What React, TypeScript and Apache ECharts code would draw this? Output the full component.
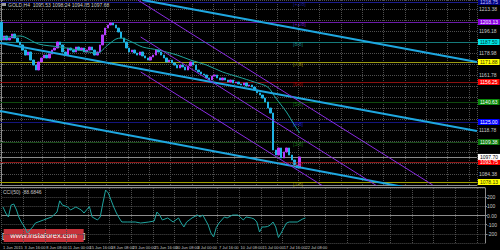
import { useEffect, useRef } from "react";
import * as echarts from "echarts";

const FONT = "'Liberation Sans', Arial, sans-serif";

const chartTitle = "GOLD,H4  1095.53 1098.24 1094.85 1097.68";
const indicatorTitle = "CCI(50) -88.6846";
const logoText = "[   www.instaforex.com   ]";

const slotCount = 179;
const dateLabels: [number, string][] = [
  [0, "1 Jun 2015"], [8, "3 Jun 16:00"], [16, "8 Jun 08:00"], [24, "11 Jun 00:00"],
  [32, "15 Jun 16:00"], [40, "18 Jun 08:00"], [48, "23 Jun 00:00"], [56, "25 Jun 16:00"],
  [64, "30 Jun 08:00"], [72, "3 Jul 00:00"], [80, "7 Jul 16:00"], [88, "10 Jul 08:00"],
  [96, "15 Jul 00:00"], [104, "17 Jul 16:00"], [112, "22 Jul 08:00"],
];

const firstOpen = 1203.1;
const closes = [
  1189.1, 1192.2, 1189.1, 1190.6, 1193.7, 1190.6, 1187.5, 1185.2, 1181.2, 1177.3,
  1179.7, 1173.4, 1169.5, 1165.6, 1171.9, 1175.0, 1177.3, 1175.0, 1178.1, 1181.2,
  1182.8, 1187.5, 1185.2, 1179.7, 1177.3, 1182.8, 1181.2, 1179.7, 1183.6, 1181.2,
  1182.8, 1179.7, 1181.2, 1183.6, 1181.2, 1177.3, 1179.7, 1185.2, 1193.0, 1198.4,
  1200.8, 1202.3, 1200.8, 1198.4, 1195.3, 1190.6, 1187.5, 1182.8, 1179.7, 1181.2,
  1178.9, 1177.3, 1179.7, 1176.6, 1175.0, 1173.4, 1175.8, 1177.3, 1181.2, 1179.7,
  1177.3, 1175.0, 1171.9, 1173.4, 1171.1, 1169.5, 1167.2, 1169.5, 1168.0, 1165.6,
  1168.8, 1171.9, 1169.5, 1165.6, 1164.1, 1162.5, 1161.7, 1159.4, 1157.8, 1160.9,
  1161.7, 1159.4, 1157.8, 1159.4, 1157.8, 1156.2, 1157.8, 1155.5, 1156.2, 1154.7,
  1153.9, 1155.5, 1153.1, 1153.9, 1152.3, 1150.0, 1147.7, 1146.1, 1143.7, 1140.6,
  1135.9, 1132.0, 1103.1, 1099.2, 1104.7, 1096.9, 1101.6, 1104.7, 1099.2, 1095.3,
  1091.4, 1089.1, 1097.7,
];

const maPoints: [number, number][] = [
  [0, 1190.6], [7, 1192.2], [14, 1185.9], [22, 1183.6], [29, 1181.2], [36, 1178.9],
  [40, 1185.2], [43, 1189.8], [45, 1190.6], [49, 1187.5], [53, 1183.6], [59, 1181.2],
  [66, 1177.3], [71, 1173.4], [77, 1169.5], [83, 1164.1], [89, 1160.2], [95, 1156.2],
  [100, 1152.3], [103, 1143.7], [107, 1132.8], [110, 1122.6], [112, 1116.4],
];

const cciPoints: [number, number][] = [
  [0, 93], [1, 27], [2, -16], [3, 114], [4, 125], [5, 60], [6, -27], [7, -82], [8, -125],
  [9, -191], [10, -158], [11, -125], [12, -82], [13, -71], [15, -49], [18, -16], [20, 38],
  [21, 160], [22, 114], [24, 93], [25, 60], [27, 93], [29, 60], [30, 27], [32, 98],
  [33, -16], [35, -49], [36, -16], [37, 136], [38, 278], [39, 245], [40, 169], [41, 93],
  [42, 27], [43, -27], [44, -71], [46, -71], [49, -71], [51, -82], [54, -71], [56, -60],
  [57, 38], [58, 5], [59, -49], [61, -27], [63, -71], [65, -27], [66, -82], [67, -125],
  [68, -71], [70, -27], [72, 5], [73, -16], [74, 5], [76, -104], [77, -191], [78, -234],
  [79, -130], [80, -82], [82, -16], [83, -27], [85, 5], [87, 5], [89, -49], [90, -16],
  [92, -27], [93, -38], [94, -71], [95, -180], [96, -125], [97, -125], [98, -120],
  [99, -104], [100, -71], [101, -125], [102, -240], [103, -191], [104, -136], [105, -82],
  [106, -71], [109, -71], [111, -38], [112, -27],
];

const levelPrices = [1218.75, 1203.125, 1187.5, 1171.875, 1156.25, 1140.625, 1125, 1109.375, 1093.75, 1078.125];
const levelNames = ["[+2/8]", "[+1/8]", "[8/8]", "[7/8]", "[6/8]", "[5/8]", "[4/8]", "[3/8]", "[2/8]", "[1/8]"];
const bidPrice = 1097.7;

const trendLines: [number, number][][] = [
  [[53.0, 1220.31], [178.5, 1171.9]],
  [[-0.5, 1186.7], [178.5, 1117.96]],
  [[-0.5, 1133.6], [178.5, 1063.5]],
];
const channelLines: [number, number][][] = [
  [[51.2, 1220.31], [161.9, 1075.8]],
  [[52.3, 1164.1], [126.1, 1068.0]],
  [[52.3, 1191.4], [143.4, 1071.9]],
];

const priceMin = 1075.78;
const priceMax = 1220.31;
const priceStep = 8.6;

// styles
const levelLineColors = ["#1c1c8c", "#6a1aa8", "#157a7a", "#9a9a10", "#8a1010", "#0f4a0f", "#14147e", "#1a4a1a", "#8a1a1a", "#a0a000"];
const levelBoxColors = ["#000080", "#8a00e0", "#00e5e5", "#ffff00", "#ff0000", "#0a8a0a", "#0000ff", "#0a7a0a", "#ff0000", "#ffff00"];
const levelBoxText = ["#c0c0ff", "#ffffff", "#003030", "#303000", "#ffffff", "#ffffff", "#ffffff", "#ffffff", "#ffffff", "#303000"];
const levelTagColors = ["#2828b0", "#8a2be2", "#20a0a0", "#b0b000", "#c00000", "#1f8a1f", "#2828ff", "#1f8a1f", "#c00000", "#b0b000"];

export default function App() {
  const ref = useRef<HTMLDivElement>(null);
  useEffect(() => {
    document.body.style.margin = "0";
    if (!ref.current) return;
    const chart = echarts.init(ref.current, undefined, { renderer: "svg" });
    const cats = Array.from({ length: slotCount }, (_, i) => String(i));
    const labelMap: Record<number, string> = {};
    dateLabels.forEach(([i, s]) => (labelMap[i] = s));
    const candles = closes.map((c, i) => {
      const o = i === 0 ? firstOpen : closes[i - 1];
      return [o, c, Math.min(o, c), Math.max(o, c)];
    });
    const grayGrid = { color: "#4e4e4e", type: "dotted" as const, width: 1 };
    const axisText = { fontSize: 5, color: "#c8c8c8", fontFamily: FONT };
    const boxPrices = [...levelPrices, bidPrice];
    const nearBox = (v: number) => boxPrices.some((p) => Math.abs(p - v) < 5.2);

    const boxLabel = (text: string, bg: string, fg: string) => ({
      show: true, position: "end", distance: 1, formatter: text,
      fontSize: 5, fontFamily: FONT, color: fg, backgroundColor: bg, padding: [0, 2], lineHeight: 6,
    });
    const levelMarks: any[] = levelPrices.map((p, k) => ({
      yAxis: p,
      lineStyle: { color: levelLineColors[k], width: 1, type: "solid" },
      label: boxLabel(p.toFixed(2), levelBoxColors[k], levelBoxText[k]),
    }));
    levelMarks.push({
      yAxis: bidPrice,
      lineStyle: { color: "#8a8a8a", width: 1, type: "solid" },
      label: boxLabel(bidPrice.toFixed(2), "#ffffff", "#000000"),
    });

    const lineSeries = (pts: [number, number][], color: string, width: number) => ({
      type: "line",
      xAxisIndex: 2,
      yAxisIndex: 0,
      data: pts,
      symbol: "none",
      clip: true,
      silent: true,
      z: 4,
      lineStyle: { color, width },
    });

    chart.setOption({
      animation: false,
      backgroundColor: "#000000",
      textStyle: { fontFamily: FONT },
      grid: [
        { left: 0, top: 0, width: 485, height: 185 },
        { left: 0, top: 188, width: 485, height: 55 },
      ],
      xAxis: [
        {
          type: "category", gridIndex: 0, data: cats, boundaryGap: true,
          axisLine: { show: true, lineStyle: { color: "#8c8c8c" } },
          axisTick: { show: false }, axisLabel: { show: false },
          splitLine: { show: true, interval: 7, lineStyle: grayGrid },
        },
        {
          type: "category", gridIndex: 1, data: cats, boundaryGap: true,
          axisLine: { show: true, lineStyle: { color: "#8c8c8c" } },
          axisTick: { show: false },
          axisLabel: {
            show: true, interval: 7, align: "left", margin: 2, fontSize: 4, color: "#c8c8c8", fontFamily: FONT,
            formatter: (_v: string, i: number) => labelMap[i] ?? "",
          },
          splitLine: { show: true, interval: 7, lineStyle: grayGrid },
        },
        { type: "value", gridIndex: 0, min: -0.5, max: slotCount - 0.5, show: false, position: "top" },
      ],
      yAxis: [
        {
          type: "value", gridIndex: 0, position: "right", min: priceMin, max: priceMax, interval: priceStep,
          axisLine: { show: true, lineStyle: { color: "#8c8c8c" } },
          axisTick: { show: true, length: 2, lineStyle: { color: "#8c8c8c" } },
          axisLabel: { margin: 2, ...axisText, formatter: (v: number) => (nearBox(v) ? "" : v.toFixed(2)) },
          splitLine: { show: true, lineStyle: grayGrid },
        },
        {
          type: "value", gridIndex: 1, position: "right", min: -300, max: 300, interval: 100,
          axisLine: { show: true, lineStyle: { color: "#8c8c8c" } },
          axisTick: { show: true, length: 2, lineStyle: { color: "#8c8c8c" } },
          axisLabel: {
            margin: 2, ...axisText, showMinLabel: false, showMaxLabel: false,
            formatter: (v: number) => (v === 0 ? "0.00" : String(v)),
          },
          splitLine: { show: true, lineStyle: grayGrid },
        },
      ],
      series: [
        {
          type: "candlestick", xAxisIndex: 0, yAxisIndex: 0, data: candles, barWidth: 2, z: 3,
          itemStyle: { color: "#b43cff", color0: "#1fb4e6", borderColor: "#b43cff", borderColor0: "#1fb4e6", borderWidth: 1 },
          markLine: { symbol: "none", silent: true, z: 1, data: levelMarks },
        },
        {
          type: "line", xAxisIndex: 0, yAxisIndex: 0, data: maPoints, symbol: "none", smooth: 0.3,
          z: 4, lineStyle: { color: "#1fa8a0", width: 1 },
        },
        ...trendLines.map((t) => lineSeries(t, "#1ea7e0", 2)),
        ...channelLines.map((t) => lineSeries(t, "#8a2be2", 1)),
        {
          type: "scatter", xAxisIndex: 2, yAxisIndex: 0, symbolSize: 0, z: 5, silent: true,
          data: levelPrices.map((p, k) => ({
            value: [109.5, p], name: levelNames[k],
            label: { show: true, position: "right", distance: 0, offset: [0, 2], formatter: levelNames[k], fontSize: 5, fontFamily: FONT, color: levelTagColors[k] },
          })),
        },
        {
          type: "line", xAxisIndex: 1, yAxisIndex: 1, data: cciPoints, symbol: "none",
          lineStyle: { color: "#1fa5a0", width: 1 },
        },
      ],
      graphic: [
        { type: "rect", left: 2, top: 2, shape: { width: 4, height: 4 }, style: { fill: "#9a9a9a" } },
        { type: "text", left: 8, top: 2, style: { text: chartTitle, fontSize: 5, fill: "#c8c8c8", fontFamily: FONT } },
        { type: "text", left: 3, top: 189, style: { text: indicatorTitle, fontSize: 5, fill: "#c8c8c8", fontFamily: FONT } },
        { type: "line", shape: { x1: 0, y1: 187.5, x2: 485, y2: 187.5 }, style: { stroke: "#8c8c8c", lineWidth: 1 } },
        {
          type: "group", left: 2, top: 229,
          children: [
            { type: "rect", shape: { x: 0, y: 0, width: 80, height: 13 }, style: { fill: "#c6323a" } },
            { type: "text", x: 40, y: 6.5, style: { text: logoText, fontSize: 7.5, fill: "#ffffff", fontFamily: FONT, align: "center", verticalAlign: "middle" } },
          ],
        },
      ],
    });
    return () => chart.dispose();
  }, []);
  return <div ref={ref} style={{ width: 500, height: 250 }} />;
}
